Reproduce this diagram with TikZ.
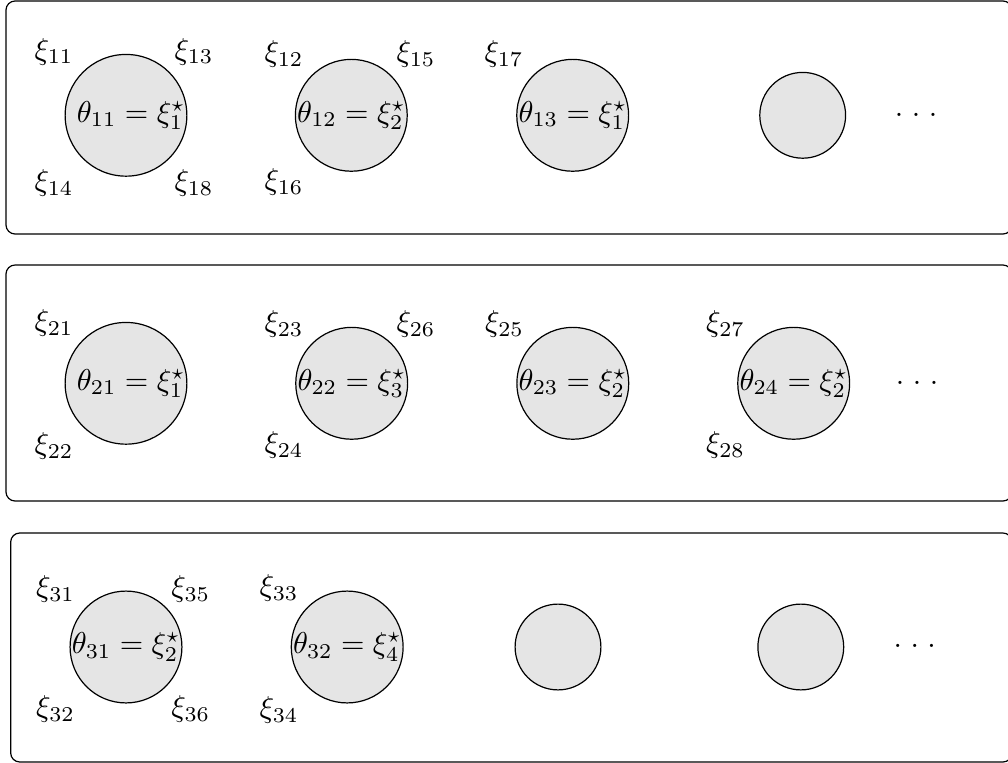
\documentclass[tikz,border=0pt]{standalone}
\begin{document}
\begin{tikzpicture}[x=0.3316pt,y=-0.3316pt,
  ball/.style={circle,draw,fill=black!10,inner sep=0pt,minimum size=1cm},
  lab/.style={inner sep=0pt}]
\useasboundingbox (0,0) rectangle (1008,763);
\tikzset{panel/.style={draw,rounded corners=3pt}}
\newcommand{\mydots}{.\kern2.85pt.\kern2.85pt.}
% panels
\draw[panel] (6,1) rectangle (1012,234);
\draw[panel] (6,265) rectangle (1012,501);
\draw[panel] (10.7,533) rectangle (1012,762);
% row 1
\node[ball] (c11) at (126,115.3) {\ $\theta_{11}=\xi^\star_1$};
\node[ball] (c12) at (351.3,115.3) {$\theta_{12}=\xi^\star_2$};
\node[ball] (c13) at (572.7,115.3) {$\theta_{13}=\xi^\star_1$};
\node[ball] (c14) at (802.7,115.3) {};
\node[lab] (d1) at (916,114.5) {\mydots};
\node[lab] (l11) at (54,51.5) {$\xi_{11}$};
\node[lab] (l13) at (194,51.5) {$\xi_{13}$};
\node[lab] (l14) at (54,183) {$\xi_{14}$};
\node[lab] (l18) at (194,183) {$\xi_{18}$};
\node[lab] (l12) at (284,54) {$\xi_{12}$};
\node[lab] (l15) at (416,54) {$\xi_{15}$};
\node[lab] (l16) at (284,182) {$\xi_{16}$};
\node[lab] (l17) at (504,54) {$\xi_{17}$};
% row 2
\node[ball] (c21) at (126,383.3) {\ $\theta_{21}=\xi^\star_1$};
\node[ball] (c22) at (351.7,383.3) {$\theta_{22}=\xi^\star_3$};
\node[ball] (c23) at (572.8,383.3) {$\theta_{23}=\xi^\star_2$};
\node[ball] (c24) at (793.7,383.3) {$\theta_{24}=\xi^\star_2$};
\node[lab] (d2) at (917,382.5) {\mydots};
\node[lab] (l21) at (54,323) {$\xi_{21}$};
\node[lab] (l22) at (54,446) {$\xi_{22}$};
\node[lab] (l23) at (284,324) {$\xi_{23}$};
\node[lab] (l26) at (416,324) {$\xi_{26}$};
\node[lab] (l24) at (284,445) {$\xi_{24}$};
\node[lab] (l25) at (504.5,324) {$\xi_{25}$};
\node[lab] (l27) at (725.5,324) {$\xi_{27}$};
\node[lab] (l28) at (725.5,445) {$\xi_{28}$};
% row 3
\node[ball] (c31) at (126,647) {$\theta_{31}=\xi^\star_2$};
\node[ball] (c32) at (347.2,647) {$\theta_{32}=\xi^\star_4$};
\node[ball] (c33) at (558,647) {};
\node[ball] (c34) at (800.8,647) {};
\node[lab] (d3) at (914.7,646.2) {\mydots};
\node[lab] (l31) at (55.5,589) {$\xi_{31}$};
\node[lab] (l35) at (190.7,589) {$\xi_{35}$};
\node[lab] (l32) at (55.5,709) {$\xi_{32}$};
\node[lab] (l36) at (190.7,709) {$\xi_{36}$};
\node[lab] (l33) at (279,588) {$\xi_{33}$};
\node[lab] (l34) at (279,710) {$\xi_{34}$};
\end{tikzpicture}
\end{document}
